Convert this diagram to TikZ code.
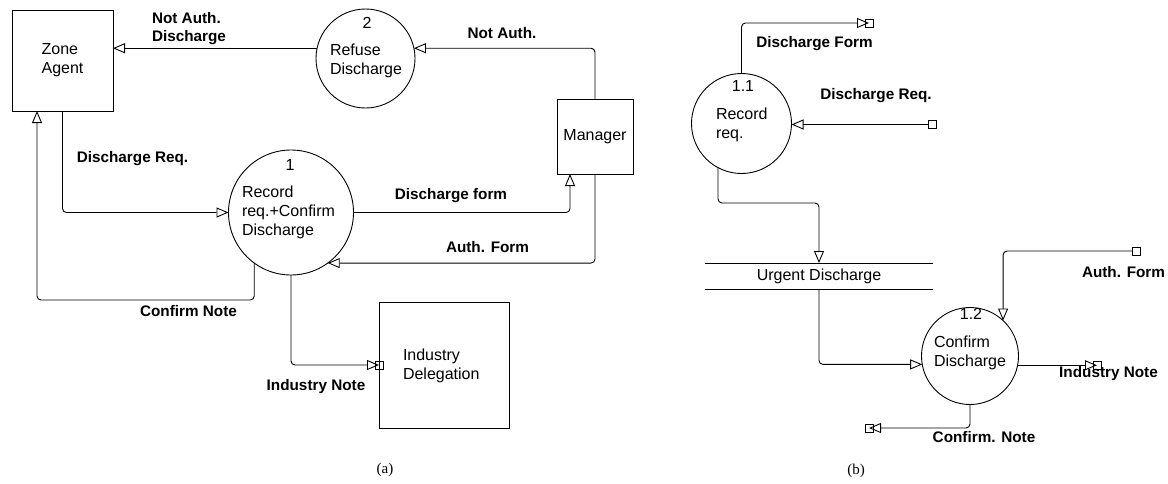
\documentclass[tikz,border=0pt]{standalone}
\usepackage{fontspec}
\setmainfont{Liberation Sans}
\newfontfamily\capfont{Liberation Serif}
\usetikzlibrary{arrows.meta,calc}
\tikzset{
  every node/.style={inner sep=0pt,outer sep=0pt},
  ln/.style={line width=0.9pt},
  flow/.style={ln,rounded corners=4pt,-{Triangle[open,length=12pt,width=10pt,fill=white]}},
  proc/.style={ln,draw,circle,minimum size=#1},
  ent/.style={ln,draw,rectangle},
  sq/.style={ln,draw,rectangle,minimum size=8pt},
  ntext/.style={font=\fontsize{16}{19}\selectfont,align=left},
  ftext/.style={font=\bfseries\fontsize{15.3}{18}\selectfont,align=left},
  captext/.style={font=\capfont\fontsize{15}{18}\selectfont}
}
\begin{document}
\begin{tikzpicture}[x=1pt,y=-1pt]
\useasboundingbox (0,0) rectangle (1168,483);
% ---------- (a) ----------
\node[ent,minimum width=101pt,minimum height=101pt] (za) at (62.5,60.5) {};
\node[ntext] (zat) at (za.center) {Zone\\Agent};
\node[proc=99pt] (c2) at (365.5,58.5) {};
\node[ntext] (c2n) at (367,23) {2};
\node[ntext,anchor=west] (c2t) at (330,61) {Refuse\\Discharge};
\node[ent,minimum width=76pt,minimum height=75pt] (mgr) at (595,136.5) {};
\node[ntext] (mgrt) at (mgr.center) {Manager};
\node[proc=125pt] (c1) at (291,212.5) {};
\node[ntext] (c1n) at (290,165) {1};
\node[ntext,anchor=west] (c1t) at (242,212) {Record\\req.+Confirm\\Discharge};
\node[ent,minimum width=130pt,minimum height=126pt] (ind) at (444,365) {};
\node[ntext,anchor=west] (indt) at (403,365.5) {Industry\\Delegation};
\coordinate (cnc) at (37,300);

\draw[flow] (c2.168) -- (c2.168 -| za.east);
\draw[flow] (mgr.north) |- (c2.12);
\draw[flow] (za.south) |- (c1.west);
\draw[flow] (c1.east) -| ([xshift=-25pt]mgr.south);
\draw[flow] (mgr.south) |- (c1.-54);
\draw[flow] (c1.-126) |- (cnc) -- ([xshift=-25.5pt]za.south);
\draw[flow] (c1.south) |- (ind.west);
\node[sq] (sqA) at (ind.west) {};

\node[ftext,anchor=west] (l1) at (152,29) {Not Auth.\\Discharge};
\node[ftext] (l2) at (502,33) {Not Auth.};
\node[ftext] (l3) at (132.5,159) {Discharge Req.};
\node[ftext] (l4) at (451,196) {Discharge form};
\node[ftext] (l5) at (487.5,247) {Auth. Form};
\node[ftext] (l6) at (188.5,311) {Confirm Note};
\node[ftext] (l7) at (316,387) {Industry Note};
\node[captext] (ca) at (385,470) {(a)};

% ---------- (b) ----------
\node[proc=100pt] (c11) at (741.5,123.5) {};
\node[ntext] (c11n) at (743,86) {1.1};
\node[ntext,anchor=west] (c11t) at (716,125) {Record\\req.};
\node[ntext,minimum width=228pt,minimum height=26pt] (ud) at (819,276) {Urgent Discharge};
\draw[ln] (ud.north west) -- (ud.north east) (ud.south west) -- (ud.south east);
\node[proc=97pt] (c12) at (970,356) {};
\node[ntext] (c12n) at (971,314) {1.2};
\node[ntext,anchor=west] (c12t) at (934,352.5) {Confirm\\Discharge};
\coordinate (sqDF) at (869,23);
\coordinate (sqDR) at (932,124.5);
\coordinate (sqAF) at (1136,251);
\coordinate (sqIN) at (1097,365);
\coordinate (sqCN) at (869,428);
\coordinate (m1) at (819,203);

\draw[flow] (c11.north) |- (sqDF);
\draw[flow] ([xshift=-4pt]sqDR) -- (sqDR -| c11.east);
\draw[flow] (c11.242) |- (m1) -- (ud.north);
\draw[flow] (ud.south) |- (c12.190);
\draw[flow] ([xshift=-4pt]sqAF) -| (c12.47);
\draw[flow] (c12.-11) -- (c12.-11 -| sqIN);
\draw[flow] (c12.south) |- (sqCN);
\node[sq] (bDF) at (sqDF) {};
\node[sq] (bDR) at (sqDR) {};
\node[sq] (bAF) at (sqAF) {};
\node[sq] (bIN) at (sqIN) {};
\node[sq] (bCN) at (sqCN) {};

\node[ftext] (l8) at (814.5,44) {Discharge Form};
\node[ftext] (l9) at (876,96) {Discharge Req.};
\node[ftext] (l10) at (1123.5,272) {Auth. Form};
\node[ftext] (l11) at (1108.5,374) {Industry Note};
\node[ftext] (l12) at (984,437) {Confirm. Note};
\node[captext] (cb) at (856,471) {(b)};
\end{tikzpicture}
\end{document}
